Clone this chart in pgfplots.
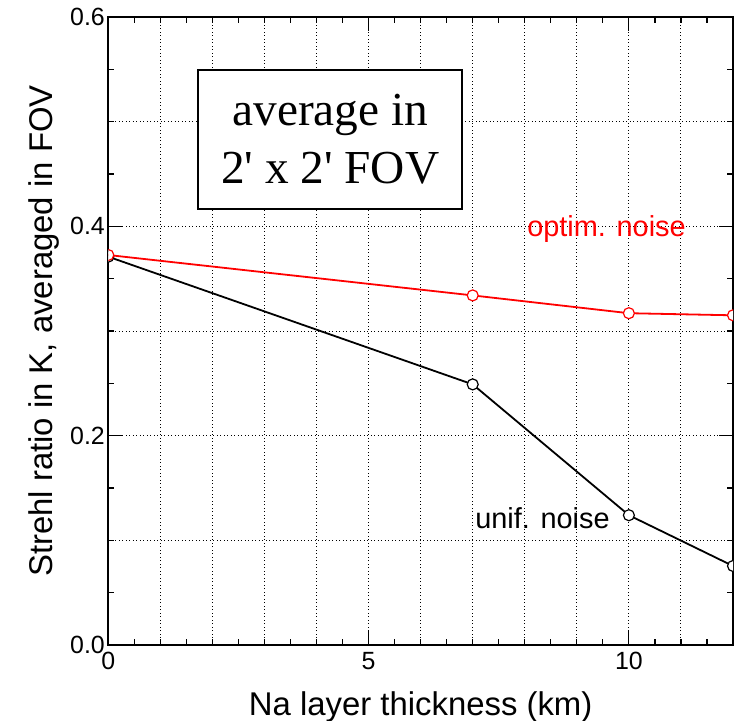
\documentclass[border=0pt]{standalone}
\usepackage{fontspec}
\setmainfont{Liberation Sans}
\newfontfamily\timesf{Liberation Serif}
\usepackage{pgfplots}
\pgfplotsset{compat=1.18}
\begin{document}
\begin{tikzpicture}
\begin{axis}[
 at={(0,0)}, anchor=south west,
 scale only axis, width=624.7bp, height=628bp,
 xmin=0, xmax=12, ymin=0, ymax=0.6,
 xtick={0,5,10}, xticklabels={0,5,10},
 ytick={0,0.2,0.4,0.6}, yticklabels={0.0,0.2,0.4,0.6},
 extra x ticks={1,2,3,4,6,7,8,9,11},
 extra y ticks={0.1,0.3,0.5},
 extra x tick labels={}, extra y tick labels={},
 extra tick style={major tick length=6bp, grid=major},
 minor xtick={0.5,1.5,...,11.5},
 minor ytick={0.05,0.15,0.25,0.35,0.45,0.55},
 xmajorgrids, ymajorgrids,
 grid style={black, line width=0.9bp, dash pattern=on 0.9bp off 2.6bp},
 tick align=inside,
 major tick length=14bp, minor tick length=6bp,
 every tick/.style={black, line width=1.2bp},
 axis line style={line width=1.8bp},
 tick label style={font=\fontsize{25}{30}\selectfont},
 xticklabel style={yshift=-4bp},
 label style={font=\fontsize{33}{40}\selectfont},
 xlabel={Na layer thickness (km)},
 ylabel={Strehl ratio in K, averaged in FOV},
 xlabel style={at={(axis description cs:0.5,-0.1115)}, anchor=base},
 ylabel style={at={(axis description cs:-0.0896,0.5)}, anchor=base},
 clip marker paths=true,
]
\addplot[black, line width=1.8bp, mark=*, mark size=5.5bp, mark options={fill=white, line width=1.2bp}]
 coordinates {(0,0.371)(7,0.249)(10,0.124)(12,0.0755)};
\addplot[red, line width=1.8bp, mark=*, mark size=5.5bp, mark options={fill=white, line width=1.2bp}]
 coordinates {(0,0.3726)(7,0.334)(10,0.317)(12,0.315)};
\node[red, font=\fontsize{29}{34}\selectfont, anchor=base] at (axis cs:9.57,0.39) {optim. noise};
\node[black, font=\fontsize{29}{34}\selectfont, anchor=base] at (axis cs:8.34,0.1115) {unif. noise};
\node[draw, line width=2.5bp, fill=white, minimum width=264bp, minimum height=139bp, align=center, inner sep=0pt, font=\timesf\fontsize{47.5}{58}\selectfont] at (axis cs:4.263,0.483) {average in\\2\textquotesingle{} x 2\textquotesingle{} FOV};
\end{axis}
\pgfresetboundingbox
\path (-108.3bp,-76bp) rectangle (625.7bp,645bp);
\end{tikzpicture}
\end{document}
